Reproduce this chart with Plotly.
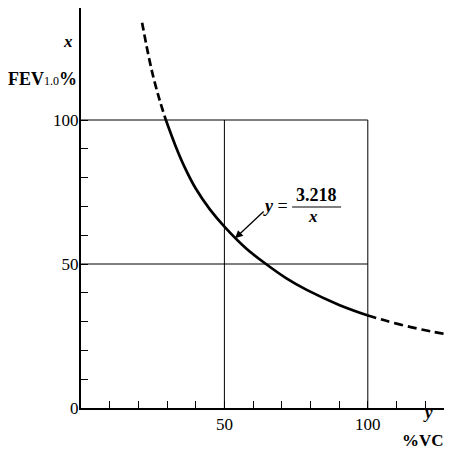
import plotly.graph_objects as go

# Curve (x = %VC, y = FEV1.0%)
upper_dash_x = [21.3, 23.2, 25.2, 27.4, 29.6]
upper_dash_y = [133.8, 124.0, 115.0, 107.0, 100.0]
solid_x = [29.6, 33.0, 36.0, 40.0, 45.0, 50.0, 57.5, 64.5, 71.5, 78.7, 90.0, 99.8]
solid_y = [100.0, 90.9, 83.9, 76.2, 68.9, 63.0, 55.5, 50.0, 45.1, 41.0, 35.8, 32.2]
lower_dash_x = [99.8, 107.0, 115.0, 122.0, 129.3]
lower_dash_y = [32.2, 30.1, 28.1, 26.6, 25.3]

x_tick_vals = [10, 20, 30, 40, 50, 60, 70, 80, 90, 100, 110, 120]
x_tick_text = ["", "", "", "", "50", "", "", "", "", "100", "", ""]
y_tick_vals = [0, 10, 20, 30, 40, 50, 60, 70, 80, 90, 100]
y_tick_text = ["0", "", "", "", "", "50", "", "", "", "", "100"]
grid_vals = [50, 100]

FONT = "Liberation Serif"
OFF = 8  # default page body margin

fig = go.Figure()
line_style = dict(color="black", width=2.7)
fig.add_trace(go.Scatter(x=upper_dash_x, y=upper_dash_y, mode="lines",
                         line=dict(line_style, dash="8px,4px", shape="spline")))
fig.add_trace(go.Scatter(x=solid_x, y=solid_y, mode="lines",
                         line=dict(line_style, shape="spline")))
fig.add_trace(go.Scatter(x=lower_dash_x, y=lower_dash_y, mode="lines",
                         line=dict(line_style, dash="9px,5px", shape="spline")))

shapes = []
for g in grid_vals:
    shapes.append(dict(type="line", xref="x", yref="y", x0=0, x1=100, y0=g, y1=g,
                       line=dict(color="black", width=1)))
    shapes.append(dict(type="line", xref="x", yref="y", x0=g, x1=g, y0=0, y1=100,
                       line=dict(color="black", width=1)))
# fraction bar
shapes.append(dict(type="line", xref="x", yref="y", x0=73.6, x1=90.7, y0=69.8, y1=69.8,
                   line=dict(color="black", width=1.2)))

data_annotations = [
    dict(x=53.7, y=58.9, ax=64.2, ay=68.75, xref="x", yref="y", axref="x", ayref="y",
         text="", showarrow=True, arrowhead=2, arrowsize=1.2, arrowwidth=1.3, arrowcolor="black"),
    dict(x=67.7, y=70.3, xref="x", yref="y", text="<i><b>y</b></i> =", showarrow=False,
         xanchor="center", yanchor="middle",
         font=dict(family=FONT, size=18, color="black")),
    dict(x=82.0, y=73.8, xref="x", yref="y", text="<b>3.218</b>", showarrow=False,
         xanchor="center", yanchor="middle",
         font=dict(family=FONT, size=18, color="black")),
    dict(x=80.9, y=66.6, xref="x", yref="y", text="<i><b>x</b></i>", showarrow=False,
         xanchor="center", yanchor="middle",
         font=dict(family=FONT, size=17, color="black")),
]
# labels positioned by page pixels
pixel_labels = [
    dict(x=68, y=42, text="<i><b>x</b></i>", size=17),
    dict(x=42, y=79, text="<b>FEV</b><span style='font-size:12px'>1.0</span><b>%</b>", size=18),
    dict(x=428, y=412, text="<i><b>y</b></i>", size=17),
    dict(x=423, y=440, text="<b>%VC</b>", size=17),
]
W, H = 452 - OFF, 451 - OFF
L, R, T, B = 73, 0, 0, 43
pw, ph = W - L - R, H - T - B
annotations = list(data_annotations)
for p in pixel_labels:
    annotations.append(dict(
        x=(p["x"] - OFF - L) / pw, y=(H - B - (p["y"] - OFF)) / ph,
        xref="paper", yref="paper", text=p["text"], showarrow=False,
        xanchor="center", yanchor="middle",
        font=dict(family=FONT, size=p["size"], color="black")))

fig.update_layout(
    width=W, height=H, margin=dict(l=L, r=R, t=T, b=B, autoexpand=False),
    paper_bgcolor="white", plot_bgcolor="white", showlegend=False,
    shapes=shapes, annotations=annotations,
    font=dict(family=FONT, size=17, color="black"),
    xaxis=dict(range=[0, pw / 2.868], tickvals=x_tick_vals, ticktext=x_tick_text,
               ticks="inside", ticklen=7, tickwidth=1, tickcolor="black",
               showline=True, linecolor="black", linewidth=2, showgrid=False,
               zeroline=False, tickfont=dict(family=FONT, size=17)),
    yaxis=dict(range=[0, ph / 2.88], tickvals=y_tick_vals, ticktext=y_tick_text,
               ticks="inside", ticklen=7, tickwidth=1, tickcolor="black",
               showline=True, linecolor="black", linewidth=2, showgrid=False,
               zeroline=False, tickfont=dict(family=FONT, size=17),
               ticklabelstandoff=-3),
)
fig.write_html("out.html")
